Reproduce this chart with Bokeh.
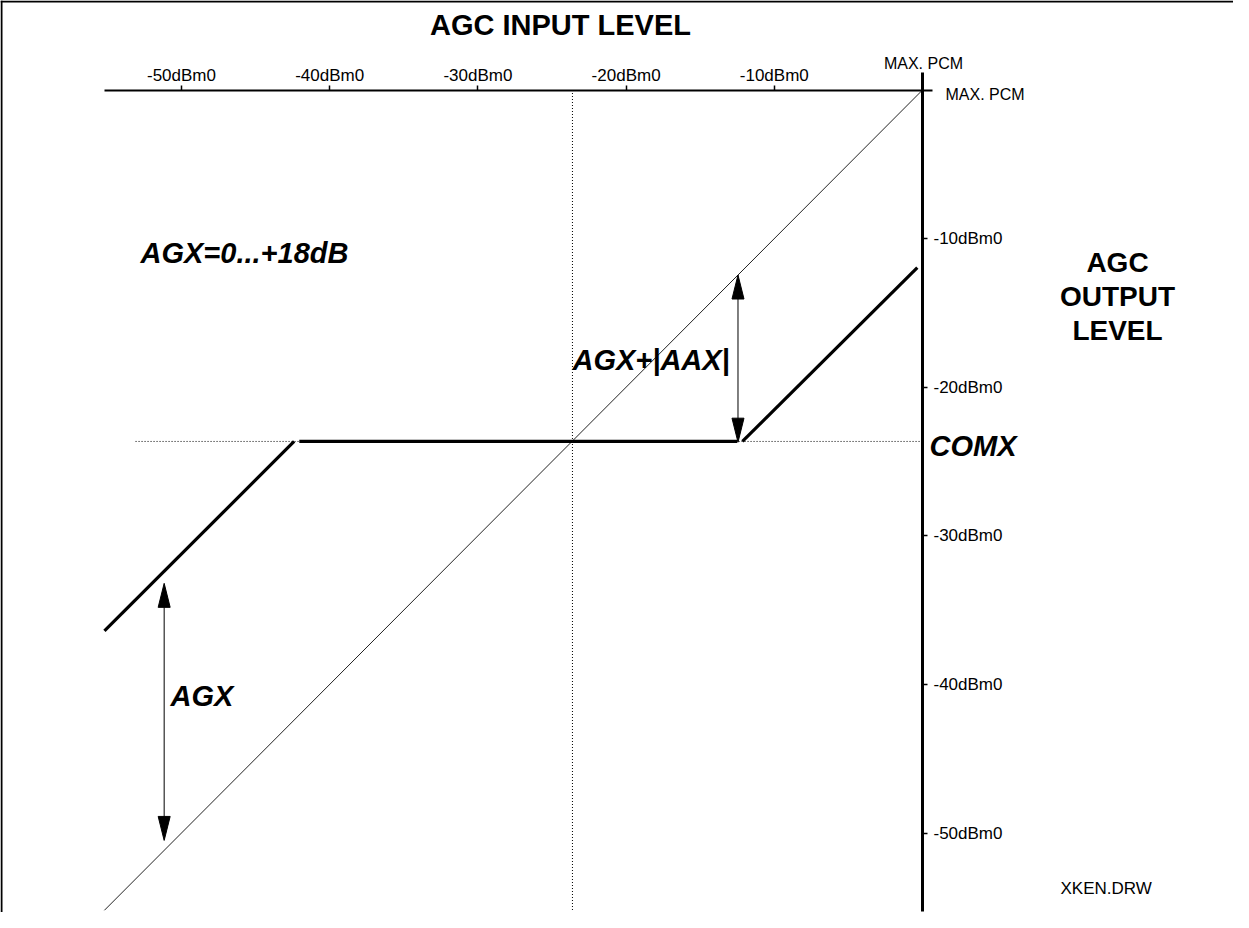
from bokeh.plotting import figure
from bokeh.models import LinearAxis, FixedTicker, Range1d, Span, Label
from bokeh.embed import file_html
from bokeh.resources import INLINE

# ---------------- data (dBm0) ----------------
x_tick_values = [-50, -40, -30, -20, -10]
x_tick_labels = ["-50dBm0", "-40dBm0", "-30dBm0", "-20dBm0", "-10dBm0"]
y_tick_values = [-10, -20, -30, -40, -50]
y_tick_labels = ["-10dBm0", "-20dBm0", "-30dBm0", "-40dBm0", "-50dBm0"]

# reference line (output = input)
ref_in = [-55.2, 0.0]
ref_out = [-55.2, 0.0]

# AGC characteristic (three pieces)
low_in = [-55.2, -42.4]
low_out = [-36.4, -23.65]
flat_in = [-42.05, -12.5]
flat_out = [-23.65, -23.65]
high_in = [-12.15, -0.35]
high_out = [-23.65, -11.95]

comx_level = -23.65          # COMX output level
comx_input = -23.62          # input where reference crosses COMX
hline_in = [-53.1, 0.0]
vline_out = [0.0, -55.2]

# double-headed arrows: (x, y_top, y_bottom)
aax_arrow = (-12.45, -12.45, -23.7)
agx_arrow = (-51.17, -33.2, -50.5)

# ---------------- figure ----------------
W, H = 1233, 912
XS, YS = 14.82, 14.86          # px per dB
X0_PX, Y0_PX = 922.0, 89.5      # canvas px of 0 dBm0

p = figure(width=W, height=H, output_backend="svg", toolbar_location=None,
           x_axis_location=None, y_axis_location=None, min_border=0,
           x_range=Range1d(-X0_PX / XS, (W - X0_PX) / XS),
           y_range=Range1d(-(H - Y0_PX) / YS, Y0_PX / YS))
p.grid.visible = False
p.outline_line_color = None
p.background_fill_color = "white"
p.border_fill_color = "white"

FONT = "Liberation Sans"

# frame lines (top and left) of the drawing sheet
p.add_layout(Span(location=p.x_range.start + 1.0 / XS, dimension="height",
                  line_color="black", line_width=2))
p.add_layout(Span(location=p.y_range.end - 1.0 / YS, dimension="width",
                  line_color="black", line_width=2))

# axes
xax = LinearAxis(fixed_location=0, bounds=(-55.2, 0.7),
                 ticker=FixedTicker(ticks=x_tick_values))
xax.major_label_overrides = dict(zip(x_tick_values, x_tick_labels))
yax = LinearAxis(fixed_location=0, bounds=(-55.3, 1.2),
                 ticker=FixedTicker(ticks=y_tick_values))
yax.major_label_overrides = dict(zip(y_tick_values, y_tick_labels))
for ax, lw in ((xax, 2), (yax, 3)):
    ax.axis_line_width = lw
    ax.axis_line_color = "black"
    ax.major_tick_in = 0
    ax.major_tick_out = 5
    ax.major_tick_line_width = 1.5
    ax.minor_tick_line_color = None
    ax.major_label_text_font = FONT
    ax.major_label_text_font_size = "17px"
    ax.major_label_text_color = "black"
xax.major_label_standoff = 0
yax.major_label_standoff = 6
p.add_layout(xax, "above")
p.add_layout(yax, "right")

# reference and helper lines
p.line(ref_in, ref_out, line_color="#222222", line_width=1)
p.line(hline_in, [comx_level, comx_level], line_color="black", line_width=1,
       line_dash="1 2")
p.line([comx_input, comx_input], vline_out, line_color="black", line_width=1,
       line_dash="1 2")

# AGC characteristic
for xs, ys in ((low_in, low_out), (flat_in, flat_out), (high_in, high_out)):
    p.line(xs, ys, line_color="black", line_width=3.2)

# arrows
HEAD_L = 24 / YS
HEAD_HW = 6 / XS
for (ax_x, yt, yb) in (aax_arrow, agx_arrow):
    p.segment(x0=[ax_x], y0=[yt - HEAD_L + 0.1], x1=[ax_x], y1=[yb + HEAD_L - 0.1],
              line_color="black", line_width=1)
    p.patches(xs=[[ax_x, ax_x - HEAD_HW, ax_x + HEAD_HW],
                  [ax_x, ax_x - HEAD_HW, ax_x + HEAD_HW]],
              ys=[[yt, yt - HEAD_L, yt - HEAD_L],
                  [yb, yb + HEAD_L, yb + HEAD_L]],
              fill_color="black", line_color="black", line_width=1)


def px2x(px):
    return (px - 930.0) / XS


def py2y(py):
    return (97.5 - py) / YS


def lab(text, px, py, size, style="normal", align="left"):
    # py is the wanted baseline (page px); small correction for SVG text placement
    py_adj = py - 0.42 * size
    p.add_layout(Label(x=px2x(px), y=py2y(py_adj), text=text, text_font=FONT,
                       text_font_size=f"{size}px", text_font_style=style,
                       text_align=align, text_baseline="alphabetic",
                       text_color="black"))


lab("AGC INPUT LEVEL", 568, 45, 29, "bold", "center")
lab("MAX. PCM", 931, 78, 16, "normal", "center")
lab("MAX. PCM", 953, 109, 16, "normal", "left")
lab("AGX=0...+18dB", 148, 273, 29, "bold italic")
lab("AGC", 1125, 282, 28, "bold", "center")
lab("OUTPUT", 1125, 316, 28, "bold", "center")
lab("LEVEL", 1125, 350, 28, "bold", "center")
lab("AGX+|AAX|", 580, 380, 29, "bold italic")
lab("COMX", 937, 466, 29, "bold italic")
lab("AGX", 178, 716, 29, "bold italic")
lab("XKEN.DRW", 1068, 903, 17, "normal")

open("out.html", "w").write(file_html(p, INLINE))
